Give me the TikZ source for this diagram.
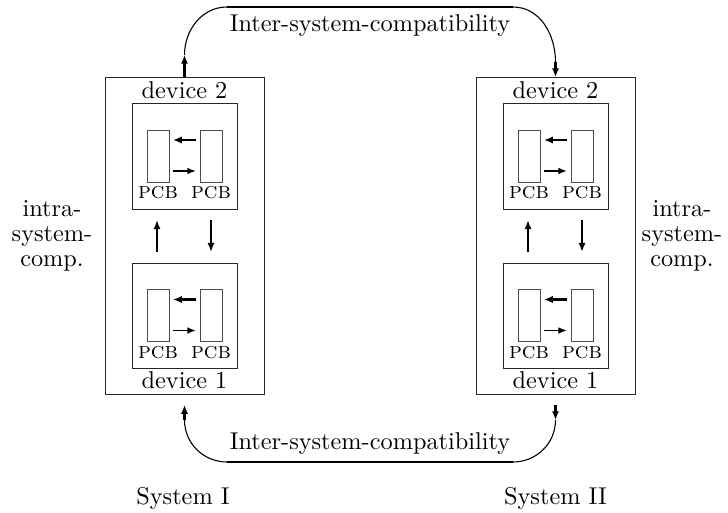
\documentclass[tikz,border=0pt]{standalone}
\usetikzlibrary{arrows.meta,calc}

% one system: outer frame with two devices, each holding two PCBs
% #1 = name prefix, #2 = horizontal centre
\newcommand\sysblock[2]{%
  \node[box={159}{317}] (#1o) at (#2,235.5) {};
  \node[box={105}{106}] (#1d2) at (#2,156) {};
  \node[box={105}{105}] (#1d1) at (#2,315.5) {};
  \node[lbl] (#1d2l) at ($(#1o.north)+(0,13)$) {device 2};
  \node[lbl] (#1d1l) at ($(#1o.south)+(0,-14)$) {device 1};
  % boards of device 2
  \node[pcb] (#1d2a) at ($(#1d2.center)+(-26.5,0)$) {};
  \node[pcb] (#1d2b) at ($(#1d2.center)+(26.5,0)$) {};
  \node[pcblbl] (#1d2al) at ($(#1d2a.center)+(0,37)$) {pcb};
  \node[pcblbl] (#1d2bl) at ($(#1d2b.center)+(0,37)$) {pcb};
  \draw[boldarrow] ($(#1d2b.west)+(-4,-16)$) -- ($(#1d2a.east)+(4,-16)$);
  \draw[thinarrow] ($(#1d2a.east)+(4,15)$) -- ($(#1d2b.west)+(-4,15)$);
  % boards of device 1
  \node[pcb] (#1d1a) at ($(#1d1.center)+(-26.5,0)$) {};
  \node[pcb] (#1d1b) at ($(#1d1.center)+(26.5,0)$) {};
  \node[pcblbl] (#1d1al) at ($(#1d1a.center)+(0,37)$) {pcb};
  \node[pcblbl] (#1d1bl) at ($(#1d1b.center)+(0,37)$) {pcb};
  \draw[boldarrow] ($(#1d1b.west)+(-4,-16)$) -- ($(#1d1a.east)+(4,-16)$);
  \draw[thinarrow] ($(#1d1a.east)+(4,15)$) -- ($(#1d1b.west)+(-4,15)$);
  % exchange between the two devices
  \draw[vertarrow] ($(#1d1.north)+(-27.5,-11)$) -- ($(#1d2.south)+(-27.5,11)$);
  \draw[vertarrow] ($(#1d2.south)+(26.5,11)$) -- ($(#1d1.north)+(26.5,-11)$);
}

\begin{document}
\begin{tikzpicture}[x=0.4115pt,y=-0.4115pt,
  box/.style 2 args={draw=black!85, line width=0.4pt, inner sep=0pt, outer sep=0pt,
    minimum width=#1*0.4115pt, minimum height=#2*0.4115pt},
  pcb/.style={box={22}{52}, draw=black!70},
  lbl/.style={inner sep=0pt, font=\fontsize{10}{12}\selectfont},
  pcblbl/.style={inner sep=0pt, font=\fontsize{9.5}{10}\selectfont\scshape},
  sidelbl/.style={inner sep=0pt, align=center, font=\fontsize{10}{10.3}\selectfont},
  boldarrow/.style={line width=1.2pt, -{Latex[length=3.6pt,width=3pt]}},
  thinarrow/.style={line width=0.7pt, -{Latex[length=3.6pt,width=2.8pt]}},
  vertarrow/.style={line width=1pt, -{Latex[length=3.8pt,width=3pt]}},
  linkarrow/.style={line width=0.9pt, -{Latex[length=3.6pt,width=3pt]}},
  arc/.style={line width=0.45pt},
  bar/.style={line width=1pt}]

\useasboundingbox (0,0) rectangle (728,512);

\sysblock{L}{184.5}
\sysblock{R}{555.5}

% upper link: System I -> System II
\coordinate (Lt) at ($(Lo.north)+(0,-22)$);
\coordinate (Rt) at ($(Ro.north)+(0,-15)$);
\coordinate (tl) at (227,7);
\coordinate (tr) at (513,7);
\draw[linkarrow] (Lo.north) -- (Lt);
\draw[arc] (Lt) to[out=90,in=180] (tl);
\draw[arc] (tr) to[out=0,in=90] (Rt);
\draw[linkarrow] (Rt) -- (Ro.north);
\draw[bar] (tl) -- node[lbl, below=2.5pt] (topl) {Inter-system-compatibility} (tr);

% lower link: System II -> System I
\coordinate (Lb) at ($(Lo.south)+(0,26)$);
\coordinate (Lb2) at ($(Lo.south)+(0,11)$);
\coordinate (Rb) at ($(Ro.south)+(0,26)$);
\coordinate (Rb2) at ($(Ro.south)+(0,11)$);
\coordinate (bl) at (227,462);
\coordinate (br) at (513,462);
\draw[linkarrow] (Lb) -- (Lb2);
\draw[linkarrow] (Rb2) -- (Rb);
\draw[arc] (Lb) to[out=-90,in=180] (bl);
\draw[arc] (br) to[out=0,in=-90] (Rb);
\draw[bar] (bl) -- node[lbl, above=2.5pt] (botl) {Inter-system-compatibility} (br);

% side and system captions
\node[sidelbl] (Lside) at (52,236) {intra-\\system-\\comp.};
\node[sidelbl] (Rside) at (682,236) {intra-\\system-\\comp.};
\node[lbl] (Lsys) at (183,498) {System I};
\node[lbl] (Rsys) at (555.5,498) {System II};
\end{tikzpicture}
\end{document}
